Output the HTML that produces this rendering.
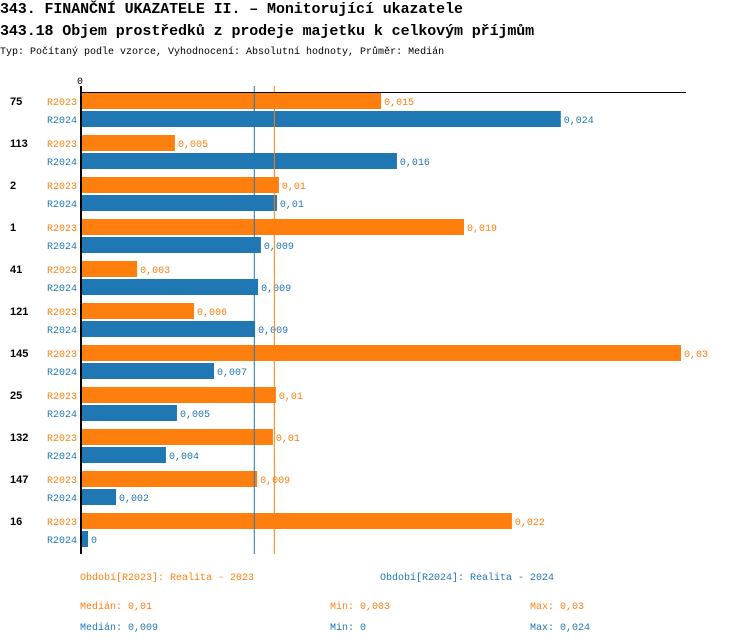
<!DOCTYPE html>
<html><head><meta charset="utf-8"><style>
body{margin:0;background:#fff;width:750px;height:644px;overflow:hidden;font-family:"Liberation Mono",monospace}
svg{display:block}
</style></head><body>
<svg id="c" width="750" height="644" xmlns="http://www.w3.org/2000/svg" font-family="Liberation Mono, monospace">
<text x="0" y="13" font-size="15" font-weight="bold" letter-spacing="-0.1">343. FINANČNÍ UKAZATELE II. – Monitorující ukazatele</text>
<text x="0" y="35" font-size="15" font-weight="bold" letter-spacing="-0.1">343.18 Objem prostředků z prodeje majetku k celkovým příjmům</text>
<text x="0" y="54" font-size="10">Typ: Počítaný podle vzorce, Vyhodnocení: Absolutní hodnoty, Průměr: Medián</text>
<text x="77" y="84" font-size="10">0</text>
<g id="bars"></g>
<line x1="80" y1="92.5" x2="686" y2="92.5" stroke="#000" stroke-width="1"/>
<line x1="81" y1="86" x2="81" y2="554" stroke="#000" stroke-width="2"/>
<g font-size="10">
<text x="80" y="580" fill="#ff7f0e">Období[R2023]: Realita - 2023</text>
<text x="380" y="580" fill="#1f77b4">Období[R2024]: Realita - 2024</text>
<text x="80" y="609" fill="#ff7f0e">Medián: 0,01</text>
<text x="330" y="609" fill="#ff7f0e">Min: 0,003</text>
<text x="530" y="609" fill="#ff7f0e">Max: 0,03</text>
<text x="80" y="630" fill="#1f77b4">Medián: 0,009</text>
<text x="330" y="630" fill="#1f77b4">Min: 0</text>
<text x="530" y="630" fill="#1f77b4">Max: 0,024</text>
</g>
</svg>
<script>
const categories=["75","113","2","1","41","121","145","25","132","147","16"];
const values2023=[0.01503,0.00474,0.00993,0.01917,0.00285,0.00569,0.0300,0.00978,0.00963,0.00884,0.02156];
const values2024=[0.0240,0.01582,0.00983,0.00903,0.00889,0.00874,0.00669,0.00484,0.00429,0.0018,0.0004];
const labels2023=["0,015","0,005","0,01","0,019","0,003","0,006","0,03","0,01","0,01","0,009","0,022"];
const labels2024=["0,024","0,016","0,01","0,009","0,009","0,009","0,007","0,005","0,004","0,002","0"];
const median2023=0.00970;
const median2024=0.00870;
const NS="http://www.w3.org/2000/svg";
const X0=80, XMAX=0.03, XW=601;
function x(v){return X0+v/XMAX*XW;}
function yGroup(i){return 93+i*42;}
const g=document.getElementById('bars');
function mk(t,a){const e=document.createElementNS(NS,t);for(const k in a)e.setAttribute(k,a[k]);return e;}
const cols=["#ff7f0e","#1f77b4"];
categories.forEach((c,i)=>{
  const y=yGroup(i);
  const t=mk('text',{x:10,y:y+12,'font-size':11,'font-weight':'bold','font-family':'Liberation Sans, sans-serif'});
  t.textContent=c;
  
  
  g.appendChild(t);
  [[values2023,labels2023,"R2023"],[values2024,labels2024,"R2024"]].forEach((s,j)=>{
    const yy=y+j*18;
    const lb=mk('text',{x:47,y:yy+12,'font-size':10,fill:cols[j]});
    lb.textContent=s[2];
    
    
    g.appendChild(lb);
    const r=mk('rect',{x:X0,y:yy,width:Math.max(0,x(s[0][i])-X0),height:16,fill:cols[j]});
    
    
    g.appendChild(r);
    const v=mk('text',{x:x(s[0][i])+3,y:yy+12,'font-size':10,fill:cols[j]});
    v.textContent=s[1][i];
    
    
    g.appendChild(v);
  });
});
[[median2023,cols[0]],[median2024,cols[1]]].forEach(m=>{
  const l=mk('line',{x1:x(m[0]),x2:x(m[0]),y1:86,y2:554,stroke:m[1],'stroke-width':1});
  
  
  g.appendChild(l);
});
</script>
</body></html>
